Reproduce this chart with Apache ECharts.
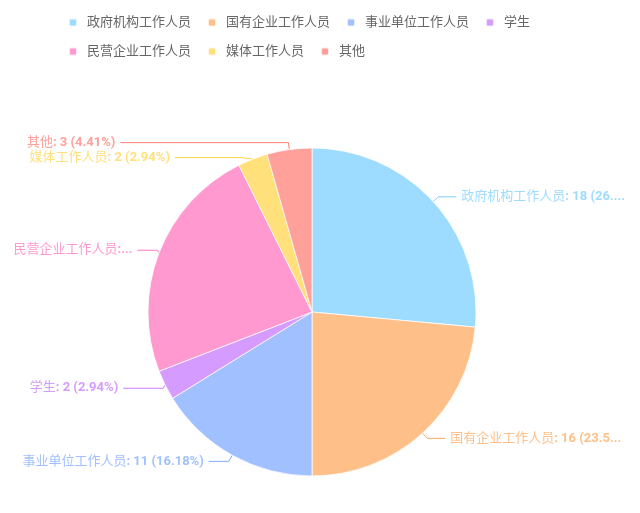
<!DOCTYPE html>
<html>
<head>
<meta charset="utf-8">
<script src="https://cdn.jsdelivr.net/npm/echarts@6/dist/echarts.min.js"></script>
<style>
  html, body { margin: 0; padding: 0; background: #fff; }
  #main { width: 640px; height: 513px; }
</style>
</head>
<body>
<div id="main"></div>
<script>
var categories = ['政府机构工作人员', '国有企业工作人员', '事业单位工作人员', '学生', '民营企业工作人员', '媒体工作人员', '其他'];
var values = [18, 16, 11, 2, 16, 2, 3];
var colors = ['#7ed0ff', '#ffaa60', '#80abff', '#c87aff', '#ff77c0', '#ffd64e', '#ff8078'];
// horizontal part of each label line (left-hand labels sit further out)
var lineTails = [18, 18, 20, 40, 20, 67, 168];

var FONT = 'Roboto, "Noto Sans CJK SC", sans-serif';
var chart = echarts.init(document.getElementById('main'));

var seriesData = [];
for (var i = 0; i < categories.length; i++) {
  seriesData.push({
    name: categories[i],
    value: values[i],
    labelLine: { length2: lineTails[i] },
    label: {
      color: colors[i],
      rich: { v: { color: colors[i], fontWeight: 'bold', fontSize: 13, fontFamily: FONT } }
    }
  });
}

var option = {
  color: colors,
  legend: {
    data: categories,
    left: 63,
    top: 11,
    width: 520,
    itemWidth: 8,
    itemHeight: 8,
    itemGap: 16,
    icon: 'roundRect',
    textStyle: {
      color: '#666',
      fontSize: 13,
      padding: [0, 12, 0, 5],
      fontFamily: FONT
    }
  },
  series: [{
    type: 'pie',
    center: [312, 312],
    radius: 164,
    startAngle: 90,
    itemStyle: {
      opacity: 0.75,
      borderColor: '#fff',
      borderWidth: 1
    },
    label: {
      fontSize: 13,
      fontFamily: FONT,
      formatter: '{b}{v|: {c} ({d}%)}'
    },
    labelLine: {
      length: 7
    },
    data: seriesData
  }]
};

chart.setOption(option);
</script>
</body>
</html>
